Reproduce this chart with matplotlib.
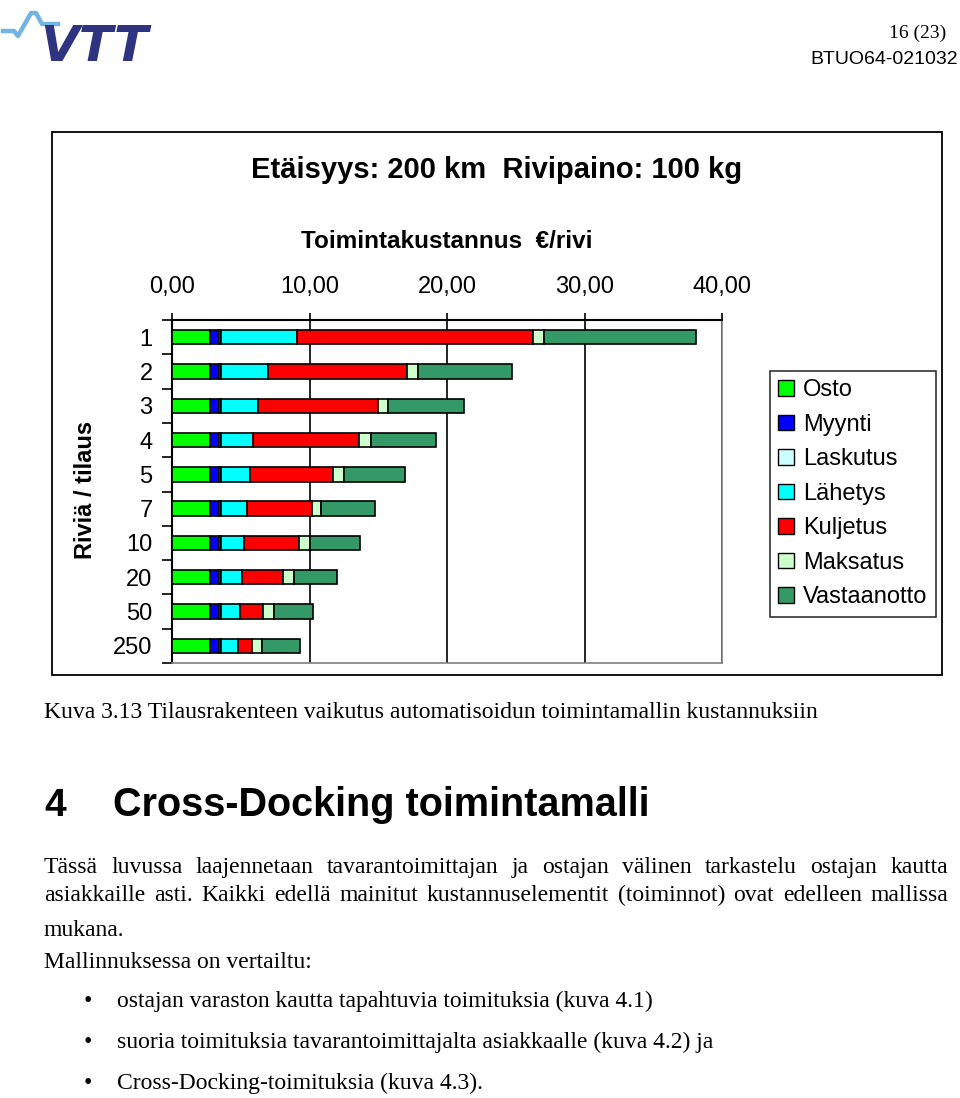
import matplotlib
matplotlib.use('Agg')
import matplotlib.pyplot as plt
from matplotlib.patches import Rectangle, Patch
from matplotlib.lines import Line2D
import numpy as np

# ---------------- data ----------------
categories = ['1', '2', '3', '4', '5', '7', '10', '20', '50', '250']
osto = [2.73, 2.73, 2.73, 2.73, 2.73, 2.73, 2.73, 2.73, 2.73, 2.73]
myynti = [0.68, 0.68, 0.68, 0.68, 0.68, 0.68, 0.68, 0.68, 0.68, 0.68]
laskutus = [0.14, 0.14, 0.14, 0.14, 0.14, 0.14, 0.14, 0.14, 0.14, 0.14]
lahetys = [5.51, 3.44, 2.68, 2.37, 2.14, 1.93, 1.72, 1.51, 1.36, 1.28]
kuljetus = [17.20, 10.12, 8.73, 7.69, 6.00, 4.67, 4.00, 3.04, 1.69, 0.99]
maksatus = [0.83, 0.76, 0.75, 0.88, 0.83, 0.66, 0.75, 0.76, 0.83, 0.75]
vastaanotto = [10.99, 6.86, 5.53, 4.70, 4.39, 3.92, 3.62, 3.16, 2.85, 2.72]
series_names = ['Osto', 'Myynti', 'Laskutus', 'Lähetys', 'Kuljetus', 'Maksatus', 'Vastaanotto']
series_colors = ['#00ff00', '#0000ff', '#ccffff', '#00ffff', '#ff0000', '#ccffcc', '#339966']
xtick_values = [0, 10, 20, 30, 40]

title = 'Etäisyys: 200 km  Rivipaino: 100 kg'
xlabel = 'Toimintakustannus  €/rivi'
ylabel = 'Riviä / tilaus'

caption = 'Kuva 3.13 Tilausrakenteen vaikutus automatisoidun toimintamallin kustannuksiin'
heading_num = '4'
heading = 'Cross-Docking toimintamalli'
para_lines = [
    'Tässä luvussa laajennetaan tavarantoimittajan ja ostajan välinen tarkastelu ostajan kautta',
    'asiakkaille asti. Kaikki edellä mainitut kustannuselementit (toiminnot) ovat edelleen mallissa',
]
para_last = 'mukana.'
intro = 'Mallinnuksessa on vertailtu:'
bullets = [
    'ostajan varaston kautta tapahtuvia toimituksia (kuva 4.1)',
    'suoria toimituksia tavarantoimittajalta asiakkaalle (kuva 4.2) ja',
    'Cross-Docking-toimituksia (kuva 4.3).',
]

# ---------------- figure ----------------
W, H = 960, 1098
fig = plt.figure(figsize=(W / 100, H / 100), dpi=100)
fig.patch.set_facecolor('white')


def fx(px):
    return px / W


def fy(py):
    return 1 - py / H


SANS = 'Liberation Sans'
SERIF = 'Liberation Serif'

# chart frame
fig.add_artist(Rectangle((fx(52), fy(675)), fx(942) - fx(52), fy(132) - fy(675),
                         transform=fig.transFigure, fill=False, ec='black', lw=1.3))

ax = fig.add_axes([fx(172), fy(663), fx(722) - fx(172), fy(320) - fy(663)])
series = [osto, myynti, laskutus, lahetys, kuljetus, maksatus, vastaanotto]
ypos = np.arange(len(categories))
left = np.zeros(len(categories))
for name, vals, col in zip(series_names, series, series_colors):
    vals = np.array(vals)
    ax.barh(ypos, vals, left=left, height=0.42, color=col, edgecolor='black',
            linewidth=1.2, label=name, zorder=3)
    left += vals

ax.set_xlim(0, 40)
ax.set_ylim(len(categories) - 0.5, -0.5)
ax.xaxis.tick_top()
ax.set_xticks(xtick_values)
ax.set_xticklabels([f'{v:.2f}'.replace('.', ',') for v in xtick_values],
                   fontfamily=SANS, fontsize=17)
ax.tick_params(axis='x', length=5, width=1.2, pad=11, direction='out')
ax.set_yticks(ypos)
ax.set_yticklabels(categories, fontfamily=SANS, fontsize=17)
ax.tick_params(axis='y', which='major', length=0, pad=14)
ax.set_yticks(np.arange(-0.5, len(categories), 1), minor=True)
ax.tick_params(axis='y', which='minor', length=7, width=1.2, direction='out')
ax.grid(axis='x', color='black', lw=1.2, zorder=0)
ax.set_axisbelow(True)
for s in ['top', 'left']:
    ax.spines[s].set_color('black')
    ax.spines[s].set_linewidth(1.5)
for s in ['bottom', 'right']:
    ax.spines[s].set_color('#808080')
    ax.spines[s].set_linewidth(1.2)

fig.text(fx(497), fy(170), title, ha='center', va='center', fontsize=21,
         fontweight='bold', fontfamily=SANS)
fig.text(fx(447), fy(241), xlabel, ha='center', va='center', fontsize=17.5,
         fontweight='bold', fontfamily=SANS)
fig.text(fx(86), fy(490), ylabel, ha='center', va='center', rotation=90,
         fontsize=17, fontweight='bold', fontfamily=SANS)

handles = [Patch(facecolor=c, edgecolor='black', lw=1) for c in series_colors]
leg = fig.legend(handles, series_names, loc='upper left',
                 bbox_to_anchor=(fx(770), fy(371)), bbox_transform=fig.transFigure,
                 frameon=True, fancybox=False, edgecolor='black',
                 prop={'family': SANS, 'size': 17},
                 handlelength=0.65, handleheight=0.65, handletextpad=0.4,
                 labelspacing=0.53, borderpad=0.35, borderaxespad=0)
leg.get_frame().set_linewidth(1.2)

# ---------------- page header ----------------
fig.text(fx(946), fy(38), '16 (23)', ha='right', va='baseline', fontsize=14,
         fontfamily=SERIF)
fig.text(fx(958), fy(64), 'BTUO64-021032', ha='right', va='baseline', fontsize=14,
         fontfamily=SANS)
pulse_x = [3, 14, 18, 31, 36, 42, 58]
pulse_y = [31, 31, 36, 13, 13, 24, 24]
fig.add_artist(Line2D([fx(v) for v in pulse_x], [fy(v) for v in pulse_y],
                      transform=fig.transFigure, color='#72b4e3', lw=3.2,
                      solid_joinstyle='round'))
fig.text(fx(40), fy(61), 'VTT', ha='left', va='baseline', fontsize=36,
         fontweight='bold', fontstyle='italic', fontfamily='DejaVu Sans',
         color='#2e3480')

# ---------------- body text ----------------
fig.text(fx(44), fy(718), caption, ha='left', va='baseline', fontsize=17,
         fontfamily=SERIF)
fig.text(fx(44), fy(816), heading_num, ha='left', va='baseline', fontsize=28,
         fontweight='bold', fontfamily=SANS)
fig.text(fx(113), fy(816), heading, ha='left', va='baseline', fontsize=28.5,
         fontweight='bold', fontfamily=SANS)

renderer = fig.canvas.get_renderer()


def justified(line, baseline, x0, x1, size=17):
    words = line.split(' ')
    txts = [fig.text(0, fy(baseline), w, ha='left', va='baseline', fontsize=size,
                     fontfamily=SERIF) for w in words]
    widths = [t.get_window_extent(renderer).width for t in txts]
    gap = (x1 - x0 - sum(widths)) / (len(words) - 1)
    x = x0
    for t, w in zip(txts, widths):
        t.set_x(fx(x))
        x += w + gap


justified(para_lines[0], 873, 44, 948)
justified(para_lines[1], 901, 44, 948)
fig.text(fx(44), fy(936), para_last, ha='left', va='baseline', fontsize=17,
         fontfamily=SERIF)
fig.text(fx(44), fy(968), intro, ha='left', va='baseline', fontsize=17,
         fontfamily=SERIF)
for b, yb in zip(bullets, [1007, 1048, 1089]):
    fig.text(fx(88), fy(yb), '•', ha='center', va='baseline', fontsize=17,
             fontfamily=SERIF)
    fig.text(fx(117), fy(yb), b, ha='left', va='baseline', fontsize=17,
             fontfamily=SERIF)

fig.savefig('out.png', dpi=100, facecolor='white')
